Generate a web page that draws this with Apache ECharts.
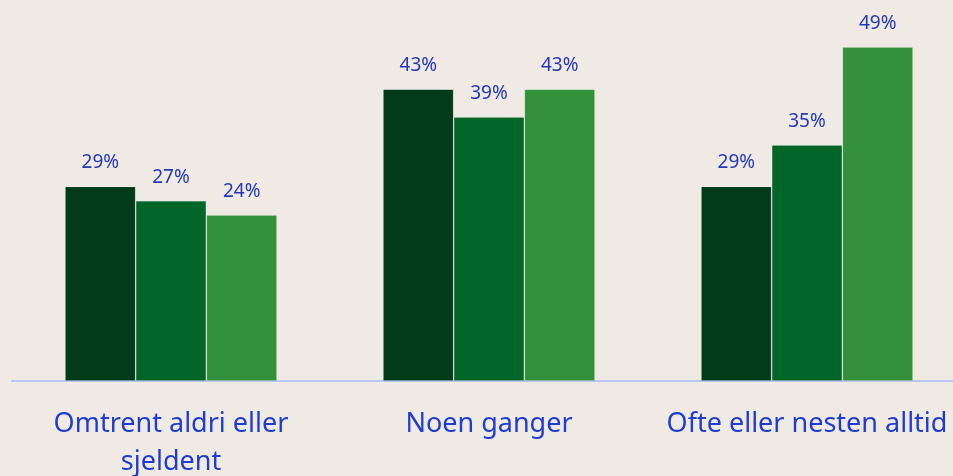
<!DOCTYPE html>
<html>
<head>
  <meta charset="utf-8">
  <title>ECharts</title>
  <script src="https://cdn.jsdelivr.net/npm/echarts@6/dist/echarts.min.js"></script>
  <style>
    html, body { margin: 0; padding: 0; background: #efebe4; }
  </style>
</head>
<body>
<div id="main" style="width: 953px; height: 476px;"></div>
<script type="text/javascript">
  // data (bar heights; labels show rounded %)
  var categories = ['Omtrent aldri eller\nsjeldent', 'Noen ganger', 'Ofte eller nesten alltid'];
  var serieA = [28.6, 42.9, 28.6];
  var serieB = [26.5, 38.8, 34.7];
  var serieC = [24.4, 42.9, 49.1];
  var colors = ['#013b1a', '#026628', '#33913c'];

  var myChart = echarts.init(document.getElementById('main'));

  function makeSeries(data, i) {
    return {
      type: 'bar',
      data: data,
      barGap: '0%',
      barCategoryGap: '33.3%',
      itemStyle: {
        color: colors[i],
        borderColor: 'rgba(255,255,255,0.12)',
        borderWidth: 1
      },
      label: {
        show: true,
        position: 'top',
        distance: 14,
        color: '#2438b8',
        fontFamily: 'Noto Sans',
        fontSize: 19,
        formatter: function (p) { return Math.round(p.value) + '%'; }
      },
      silent: true
    };
  }

  var option = {
    backgroundColor: '#efebe4',
    animation: false,
    grid: { left: 12, top: 0, width: 954, bottom: 95, containLabel: false, outerBoundsMode: 'none' },
    xAxis: {
      type: 'category',
      data: categories,
      axisTick: { show: false },
      axisLine: { lineStyle: { color: '#b9c6ef', width: 2 } },
      axisLabel: {
        margin: 24,
        color: '#1f3ccf',
        fontFamily: 'Noto Sans',
        fontSize: 27,
        lineHeight: 38,
        interval: 0
      }
    },
    yAxis: { type: 'value', min: 0, max: 56, show: false, splitLine: { show: false } },
    series: [makeSeries(serieA, 0), makeSeries(serieB, 1), makeSeries(serieC, 2)]
  };
  myChart.setOption(option);
</script>
</body>
</html>
